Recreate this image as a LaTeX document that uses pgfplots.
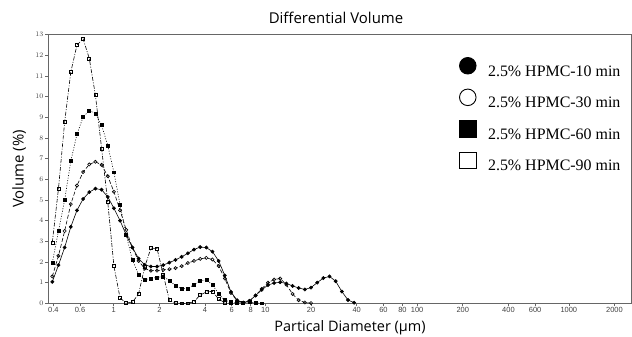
\documentclass[border=0pt]{standalone}
\usepackage{fontspec}
\setmainfont{Open Sans}
\newfontfamily\serifleg{Liberation Serif}
\newfontfamily\arialf{Liberation Sans}
\usepackage{pgfplots}
\pgfplotsset{compat=1.18}
\usepackage{pgfplotstable}

\pgfplotstableread{
d v
0.3940 1.04
0.4326 1.85
0.4750 2.70
0.5216 3.70
0.5727 4.50
0.6288 5.05
0.6904 5.38
0.7581 5.55
0.8324 5.50
0.9140 5.15
1.0035 4.60
1.1019 4.00
1.2099 3.30
1.3284 2.70
1.4586 2.17
1.6016 1.86
1.7585 1.78
1.9309 1.78
2.1201 1.85
2.3279 1.97
2.5560 2.10
2.8065 2.25
3.0816 2.42
3.3836 2.60
3.7152 2.72
4.0793 2.70
4.4790 2.50
4.9180 2.05
5.3999 1.35
5.9291 0.55
6.5102 0.15
7.1482 0.03
7.8487 0.12
8.6179 0.38
9.4624 0.65
10.390 0.88
11.408 0.98
12.526 1.02
13.754 0.96
15.102 0.84
16.582 0.74
18.207 0.67
19.991 0.76
21.950 1.00
24.101 1.22
26.463 1.30
29.057 1.07
31.904 0.57
35.031 0.16
38.464 0.03
}\tenmin

\pgfplotstableread{
d v
0.3940 1.30
0.4326 2.30
0.4750 3.50
0.5216 4.80
0.5727 5.70
0.6288 6.35
0.6904 6.72
0.7581 6.85
0.8324 6.70
0.9140 6.15
1.0035 5.40
1.1019 4.50
1.2099 3.55
1.3284 2.70
1.4586 2.05
1.6016 1.68
1.7585 1.58
1.9309 1.58
2.1201 1.62
2.3279 1.65
2.5560 1.70
2.8065 1.80
3.0816 1.95
3.3836 2.05
3.7152 2.15
4.0793 2.20
4.4790 2.12
4.9180 1.80
5.3999 1.20
5.9291 0.50
6.5102 0.12
7.1482 0.03
7.8487 0.10
8.6179 0.38
9.4624 0.70
10.390 1.00
11.408 1.15
12.526 1.20
13.754 0.90
15.102 0.45
16.582 0.15
18.207 0.04
19.991 0.01
}\thirtymin

\pgfplotstableread{
d v
0.3940 1.97
0.4326 3.50
0.4750 5.00
0.5216 6.88
0.5727 8.18
0.6288 9.02
0.6904 9.33
0.7581 9.18
0.8324 8.62
0.9140 7.64
1.0035 6.34
1.1019 4.77
1.2099 3.30
1.3284 2.10
1.4586 1.40
1.6016 1.15
1.7585 1.20
1.9309 1.25
2.1201 1.30
2.3279 1.10
2.5560 0.85
2.8065 0.70
3.0816 0.72
3.3836 0.90
3.7152 1.10
4.0793 1.12
4.4790 0.90
4.9180 0.45
5.3999 0.15
5.9291 0.05
6.5102 0.02
7.1482 0.04
7.8487 0.06
8.6179 0.02
9.4624 0.00
}\sixtymin

\pgfplotstableread{
d v
0.3940 2.95
0.4326 5.55
0.4750 8.77
0.5216 11.19
0.5727 12.50
0.6288 12.80
0.6904 11.85
0.7581 10.07
0.8324 7.50
0.9140 4.90
1.0035 1.80
1.1019 0.25
1.2099 0.02
1.3284 0.05
1.4586 0.45
1.6016 1.75
1.7585 2.67
1.9309 2.65
2.1201 1.40
2.3279 0.15
2.5560 0.01
2.8065 0.00
3.0816 0.00
3.3836 0.08
3.7152 0.40
4.0793 0.55
4.4790 0.58
4.9180 0.20
5.3999 0.03
5.9291 0.00
}\ninetymin

\begin{document}
\begin{tikzpicture}
\begin{axis}[
  scale only axis, width=583bp, height=268.6bp,
  at={(0,0)}, anchor=south west,
  xmode=log, xmin=0.369, xmax=2570, ymin=0, ymax=13,
  xtick={0.4,0.6,1,2,4,6,8,10,20,40,60,80,100,200,400,600,1000,2000},
  xticklabels={0.4,0.6,1,2,4,6,8,10,20,40,60,80,100,200,400,600,1000,2000},
  minor xtick={},
  ytick={0,1,...,13},
  tick pos=left, tick align=outside, major tick length=3bp,
  tick style={black!60, line width=0.6pt},
  axis line style={black!60, line width=0.9pt},
  ticklabel style={font=\arialf\fontsize{7.5}{8}\selectfont, text=black!75},
  xticklabel style={inner sep=1pt},
  yticklabel style={inner sep=1.5pt},
  title={Differential Volume},
  title style={font=\fontsize{15}{17}\selectfont, at={(axis description cs:0.494,1.04)}, anchor=center},
  xlabel={Partical Diameter (µm)},
  xlabel style={font=\fontsize{14.5}{16}\selectfont, at={(axis description cs:0.518,-0.0894)}, anchor=center},
  ylabel={Volume (\%)},
  ylabel style={font=\fontsize{15}{17}\selectfont, at={(axis description cs:-0.0497,0.5)}, anchor=center},
  clip=false,
  legend cell align=left,
  legend image code/.code={\draw[#1, mark size=8.3pt, line width=0.9pt, solid] plot coordinates {(8.5bp,5.3bp)};},
  legend style={draw=none, fill=none, at={(axis description cs:0.7055,0.9159)}, anchor=north west,
    font=\serifleg\fontsize{16}{18}\selectfont, inner sep=0pt, row sep=9bp, column sep=12bp,
    nodes={inner sep=0pt, text height=14bp, text depth=4bp}},
]
\addplot[black, line width=0.6pt, mark=*, mark size=1.6pt, mark options={solid}] table[x=d,y=v] {\tenmin};
\addlegendentry{2.5\% HPMC-10 min}
\addplot[black, line width=0.6pt, dash pattern=on 4pt off 2pt, mark=o, mark size=1.6pt, mark options={solid, fill=white}] table[x=d,y=v] {\thirtymin};
\addlegendentry{2.5\% HPMC-30 min}
\addplot[black, line width=0.6pt, dash pattern=on 1pt off 1.6pt, mark=square*, mark size=1.5pt, mark options={solid}] table[x=d,y=v] {\sixtymin};
\addlegendentry{2.5\% HPMC-60 min}
\addplot[black, line width=0.6pt, dash pattern=on 4pt off 1.5pt on 1pt off 1.5pt, mark=square, mark size=1.5pt, mark options={solid, fill=white}] table[x=d,y=v] {\ninetymin};
\addlegendentry{2.5\% HPMC-90 min}
\end{axis}
\pgfresetboundingbox
\path (-48bp,-33.7bp) rectangle (584bp,303.3bp);
\end{tikzpicture}
\end{document}
